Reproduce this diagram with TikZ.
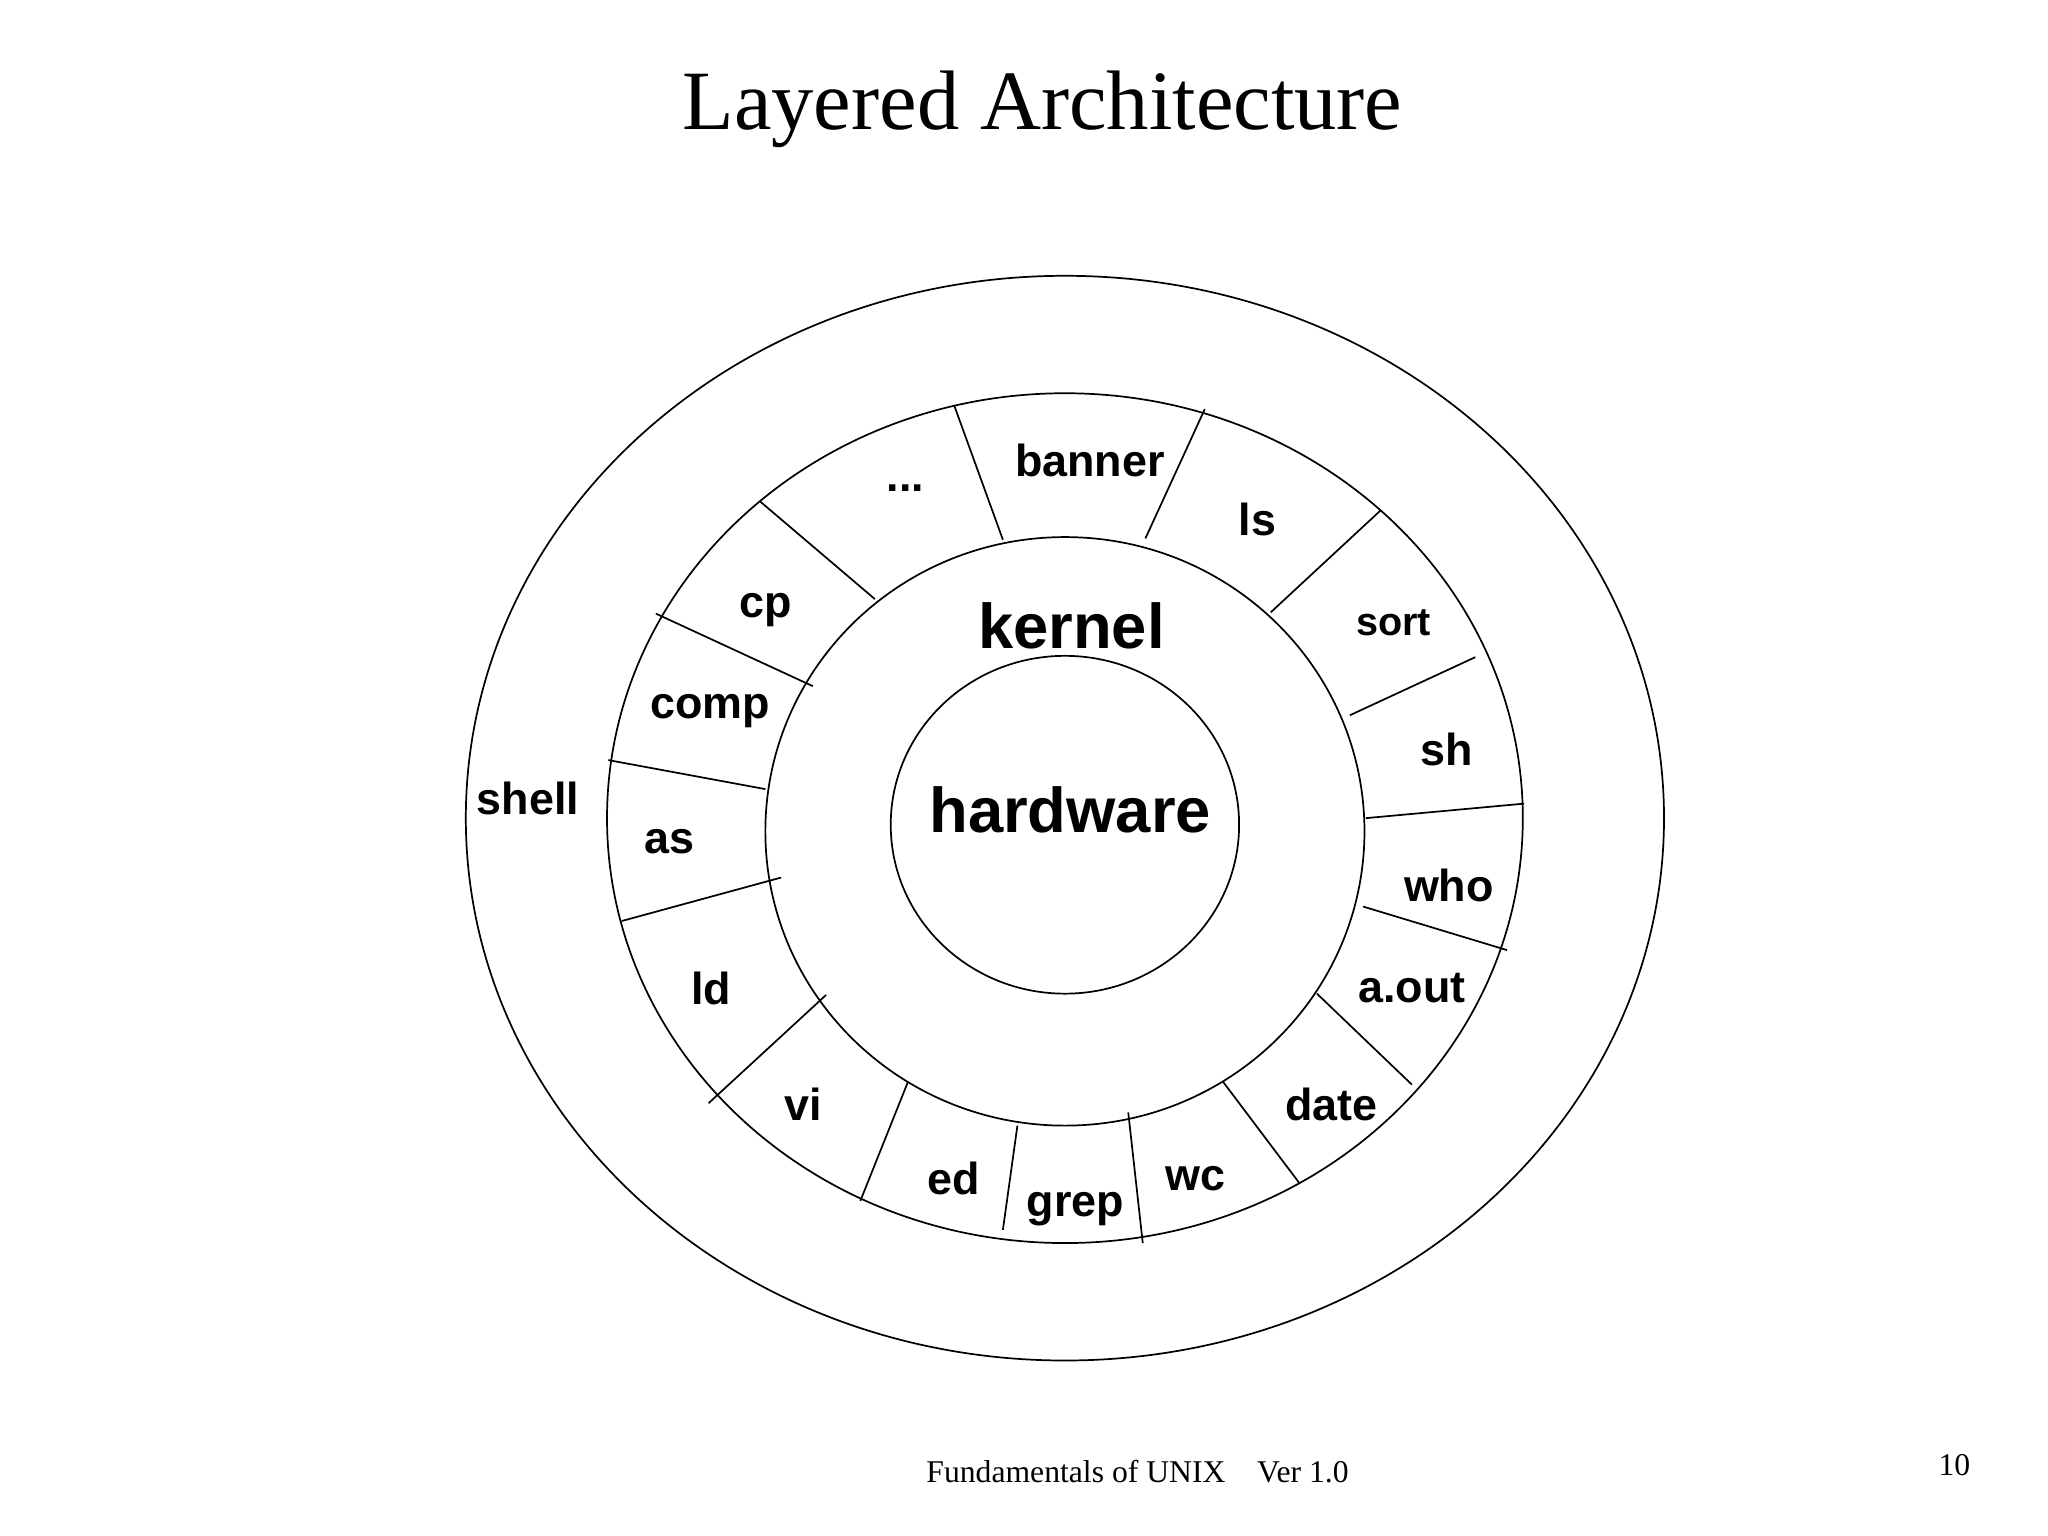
\documentclass[tikz,border=0pt]{standalone}
\usepackage{fontspec}
\setmainfont{Liberation Serif}
\setsansfont{Liberation Sans}
\begin{document}
\begin{tikzpicture}[x=1pt,y=-1pt,line width=1.3pt,
  lbl/.style={font=\sffamily\bfseries\fontsize{34}{40}\selectfont,inner sep=0pt},
  big/.style={font=\sffamily\bfseries\fontsize{48}{56}\selectfont,inner sep=0pt}]
\useasboundingbox[fill=white] (0,0) rectangle (1552,1164);
\draw (807,620) ellipse [x radius=454,y radius=411];
\draw (807,620) ellipse [x radius=347,y radius=322];
\draw (807,630) ellipse [x radius=227,y radius=223];
\draw (807,625) ellipse [x radius=132,y radius=128];
\foreach \a/\b in {{(723,307)}/{(760,409)},{(913,310)}/{(868,408)},{(1046,387)}/{(963,464)},
 {(1118,498)}/{(1023,542)},{(1155,609)}/{(1035,620)},{(1142,720)}/{(1033,687)},
 {(1070,822)}/{(998,753)},{(985,897)}/{(927,820)},{(866,942)}/{(855,843)},
 {(771,853)}/{(760,932)},{(688,820)}/{(652,910)},{(626,754)}/{(537,836)},
 {(592,665)}/{(471,698)},{(461,576)}/{(580,598)},{(497,465)}/{(616,520)},
 {(576,380)}/{(663,454)}}
 \draw \a -- \b;
\node[lbl] (banner) at (826,349) {banner};
\node[lbl] (dots) at (686,370) {...};
\node[lbl] (ls) at (953,394) {ls};
\node[lbl,font=\sffamily\bfseries\fontsize{30}{36}\selectfont] (sort) at (1056,472) {sort};
\node[lbl] (sh) at (1096,568) {sh};
\node[lbl] (who) at (1098,671) {who};
\node[lbl] (aout) at (1070,749) {a.out};
\node[lbl] (date) at (1009,837) {date};
\node[lbl] (wc) at (906,893) {wc};
\node[lbl] (grep) at (815,916) {grep};
\node[lbl] (ed) at (723,893) {ed};
\node[lbl] (vi) at (609,837) {vi};
\node[lbl] (ld) at (539,749) {ld};
\node[lbl] (as) at (507,638) {as};
\node[lbl] (comp) at (538,539) {comp};
\node[lbl] (cp) at (580,462) {cp};
\node[lbl] (shell) at (400,605) {shell};
\node[big] (kernel) at (812,474) {kernel};
\node[big] (hw) at (811,614) {hardware};
\node[font=\fontsize{64}{72}\selectfont,inner sep=0pt] (title) at (790,83) {Layered Architecture};
\node[font=\fontsize{24}{28}\selectfont,inner sep=0pt] (foot) at (862,1115) {Fundamentals of UNIX\quad Ver 1.0};
\node[font=\fontsize{24}{28}\selectfont,inner sep=0pt] (num) at (1481,1110) {10};
\end{tikzpicture}
\end{document}
